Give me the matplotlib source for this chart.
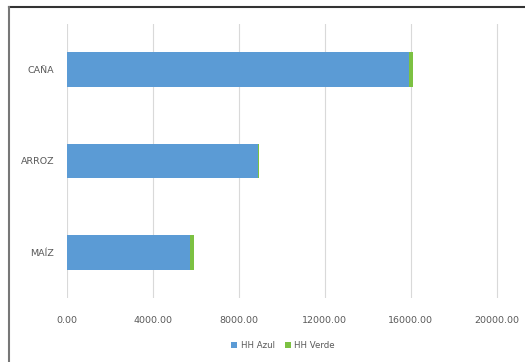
import matplotlib.pyplot as plt
import numpy as np
from matplotlib.lines import Line2D

cultivos = ['MAÍZ', 'ARROZ', 'CAÑA']
hh_azul = [5700, 8900, 15900]
hh_verde = [230, 30, 200]
ticks_x = [0, 4000, 8000, 12000, 16000, 20000]

azul = '#5B9BD5'
verde = '#7CC142'

fig = plt.figure(figsize=(5.25, 3.62), dpi=100)
ax = fig.add_axes([0.1276, 0.1768, 0.8229, 0.7569])

y = np.arange(len(cultivos))
ax.barh(y, hh_azul, height=0.38, color=azul, label='HH Azul', zorder=3)
ax.barh(y, hh_verde, left=hh_azul, height=0.38, color=verde, label='HH Verde', zorder=3)

ax.set_xlim(0, 20100)
ax.set_ylim(-0.5, 2.5)
ax.set_xticks(ticks_x)
ax.set_xticklabels(['%.2f' % t for t in ticks_x])
ax.set_yticks(y)
ax.set_yticklabels(cultivos)
ax.tick_params(axis='both', length=0, labelsize=6.8, colors='#595959', pad=13)
ax.tick_params(axis='y', pad=9)
ax.grid(axis='x', color='#D9D9D9', linewidth=0.8, zorder=0)
for s in ax.spines.values():
    s.set_visible(False)

leg = ax.legend(loc='upper center', bbox_to_anchor=(0.5, -0.13), ncol=2,
                frameon=False, fontsize=6.2, handlelength=0.7, handleheight=0.7,
                columnspacing=1.2, handletextpad=0.4)
for t in leg.get_texts():
    t.set_color('#595959')

# marco del gráfico
fig.add_artist(Line2D([0.017, 1.0], [0.982, 0.982], color='#333333', linewidth=1.5))
fig.add_artist(Line2D([0.018, 0.018], [0.0, 0.982], color='#777777', linewidth=1.5))

fig.savefig('out.png', dpi=100, facecolor='white')
